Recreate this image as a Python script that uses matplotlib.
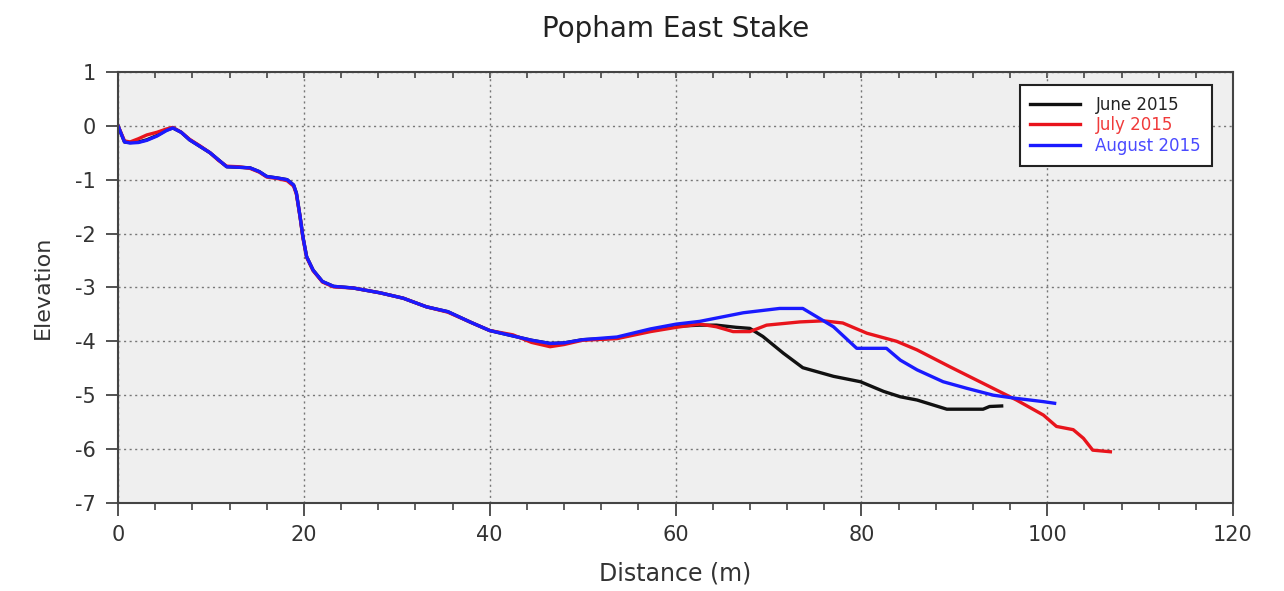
import matplotlib
matplotlib.use("Agg")
import matplotlib.pyplot as plt
from matplotlib.ticker import MultipleLocator

plt.rcParams["axes.unicode_minus"] = False

# Beach profile surveys, distance from stake (m) vs elevation
june_x = [0, 0.7, 1.3, 2.2, 3.1, 4.2, 5.2, 5.9, 6.8, 7.7, 8.8, 9.9, 10.8, 11.7, 13.0, 14.2,
          15.2, 16.0, 17.2, 18.2, 18.9, 19.2, 19.6, 19.9, 20.3, 21.0, 22.0, 23.2, 25.3, 28.2,
          30.7, 33.2, 35.5, 38.0, 40.0, 42.5, 44.5, 46.5, 48.0, 50.0, 53.7, 57.3, 60.1, 62.6,
          64.4, 66.5, 68.0, 69.4, 71.6, 73.7, 77.0, 79.9, 82.4, 84.2, 86.0, 89.2, 93.1, 93.8, 95.1]
june_y = [0, -0.3, -0.31, -0.3, -0.26, -0.18, -0.08, -0.04, -0.12, -0.26, -0.38, -0.5, -0.63,
          -0.76, -0.77, -0.78, -0.85, -0.94, -0.97, -1.0, -1.1, -1.25, -1.69, -2.06, -2.43, -2.68,
          -2.89, -2.98, -3.01, -3.1, -3.2, -3.36, -3.45, -3.65, -3.8, -3.9, -3.98, -4.04, -4.03,
          -3.97, -3.94, -3.79, -3.72, -3.70, -3.70, -3.74, -3.76, -3.91, -4.22, -4.49, -4.65,
          -4.75, -4.93, -5.03, -5.09, -5.26, -5.26, -5.21, -5.20]

july_x = [0, 0.7, 1.3, 2.2, 3.1, 4.2, 5.2, 5.9, 6.8, 7.7, 8.8, 9.9, 10.8, 11.7, 13.0, 14.2,
          15.2, 16.0, 17.2, 18.2, 18.9, 19.2, 19.6, 19.9, 20.3, 21.0, 22.0, 23.2, 25.3, 28.2,
          30.7, 33.2, 35.5, 38.0, 40.0, 42.5, 44.5, 46.5, 48.0, 50.0, 53.7, 57.3, 60.1, 62.6,
          64.4, 66.2, 68.0, 69.8, 73.4, 75.9, 78.0, 80.6, 83.8, 86.0, 89.5, 93.1, 96.7, 99.6,
          101.0, 102.8, 103.9, 104.9, 106.8]
july_y = [0, -0.28, -0.3, -0.24, -0.17, -0.12, -0.06, -0.03, -0.12, -0.25, -0.37, -0.5, -0.64,
          -0.75, -0.76, -0.79, -0.86, -0.95, -0.98, -1.02, -1.12, -1.27, -1.7, -2.08, -2.44,
          -2.69, -2.9, -2.99, -3.01, -3.1, -3.2, -3.36, -3.46, -3.65, -3.8, -3.88, -4.02, -4.1,
          -4.06, -3.98, -3.95, -3.82, -3.74, -3.68, -3.73, -3.82, -3.82, -3.70, -3.64, -3.62,
          -3.66, -3.85, -4.0, -4.16, -4.47, -4.78, -5.09, -5.37, -5.58, -5.64, -5.80, -6.02, -6.05]

aug_x = [0, 0.7, 1.3, 2.2, 3.1, 4.2, 5.2, 5.9, 6.8, 7.7, 8.8, 9.9, 10.8, 11.7, 13.0, 14.2,
         15.2, 16.0, 17.2, 18.2, 18.9, 19.2, 19.6, 19.9, 20.3, 21.0, 22.0, 23.2, 25.3, 28.2,
         30.7, 33.2, 35.5, 38.0, 40.0, 42.5, 44.5, 46.5, 48.0, 50.0, 53.7, 57.3, 60.1, 62.6,
         67.3, 71.2, 73.7, 77.0, 79.5, 82.7, 84.2, 86.0, 88.8, 91.3, 94.2, 96.7, 99.6, 100.8]
aug_y = [0, -0.3, -0.32, -0.31, -0.27, -0.19, -0.09, -0.04, -0.12, -0.26, -0.38, -0.5, -0.63,
         -0.76, -0.77, -0.78, -0.85, -0.94, -0.97, -1.0, -1.1, -1.25, -1.69, -2.06, -2.43, -2.68,
         -2.89, -2.98, -3.01, -3.1, -3.2, -3.36, -3.45, -3.65, -3.8, -3.9, -3.98, -4.04, -4.03,
         -3.97, -3.92, -3.77, -3.68, -3.63, -3.47, -3.39, -3.39, -3.73, -4.13, -4.13, -4.35,
         -4.53, -4.75, -4.87, -5.0, -5.06, -5.12, -5.15]

labels = ["June 2015", "July 2015", "August 2015"]
colors = ["#111111", "#e8141c", "#1a1aff"]
text_colors = ["#222222", "#f03a3a", "#4a4aff"]

fig = plt.figure(figsize=(12.84, 5.91), dpi=100)
ax = fig.add_axes([0.0919, 0.149, 0.8684, 0.7293])
ax.set_facecolor("#efefef")

for (xs, ys), lab, col in zip([(june_x, june_y), (july_x, july_y), (aug_x, aug_y)], labels, colors):
    ax.plot(xs, ys, color=col, lw=2.4, label=lab)

ax.set_xlim(0, 120)
ax.set_ylim(-7, 1)
ax.xaxis.set_major_locator(MultipleLocator(20))
ax.xaxis.set_minor_locator(MultipleLocator(4))
ax.yaxis.set_major_locator(MultipleLocator(1))

ax.grid(True, which="major", linestyle=(0, (1.5, 2.5)), color="#777777", lw=1.0)

for s in ax.spines.values():
    s.set_color("#444444")
    s.set_linewidth(1.5)

ax.tick_params(axis="both", which="major", direction="out", length=9, width=1.3,
               color="#444444", labelsize=15, labelcolor="#333333", pad=7)
ax.tick_params(axis="x", which="minor", direction="out", length=5, width=1.2, color="#444444")
# inward tick marks along the top edge
sec = ax.secondary_xaxis("top")
sec.xaxis.set_major_locator(MultipleLocator(4))
sec.tick_params(direction="in", length=4, width=1.2, color="#444444", labeltop=False)
sec.spines["top"].set_visible(False)

ax.set_title("Popham East Stake", fontsize=20, color="#222222", pad=25)
ax.set_xlabel("Distance (m)", fontsize=17, color="#333333", labelpad=12)
ax.set_ylabel("Elevation", fontsize=16, color="#333333", labelpad=16)

leg = ax.legend(loc="upper right", bbox_to_anchor=(0.981, 0.970), borderaxespad=0,
                fontsize=12, frameon=True, fancybox=False, handlelength=3.0,
                labelspacing=0.15, borderpad=0.65, handletextpad=0.9)
leg.get_frame().set_edgecolor("#222222")
leg.get_frame().set_linewidth(1.5)
leg.get_frame().set_facecolor("white")
leg.get_frame().set_alpha(1)
for t, c in zip(leg.get_texts(), text_colors):
    t.set_color(c)

fig.savefig("out.png", dpi=100)
